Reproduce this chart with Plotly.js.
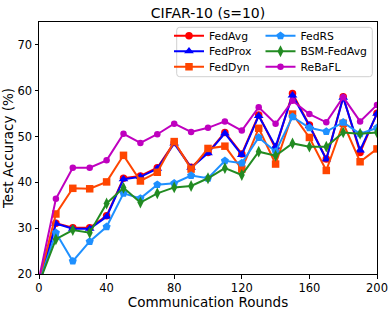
<!DOCTYPE html>
<html>
<head>
<meta charset="utf-8">
<script src="https://cdn.plot.ly/plotly-3.0.1.min.js"></script>
<style>html,body{margin:0;padding:0;background:#fff;}#chart{width:391px;height:310px;}</style>
</head>
<body>
<div id="chart"></div>
<script>
var rounds = [0, 10, 20, 30, 40, 50, 60, 70, 80, 90, 100, 110, 120, 130, 140, 150, 160, 170, 180, 190, 200];
var fedavg = [18.0, 31.1, 30.1, 30.1, 32.7, 40.9, 41.4, 43.2, 48.7, 43.3, 46.5, 50.9, 46.2, 54.7, 47.4, 59.4, 52.5, 45.1, 58.7, 46.5, 55.1];
var fedprox = [17.5, 31.0, 29.9, 29.9, 32.5, 40.7, 41.2, 43.0, 48.5, 43.2, 46.4, 50.7, 46.0, 54.5, 47.8, 59.0, 52.3, 45.0, 58.5, 47.0, 55.0];
var feddyn = [18.5, 33.1, 38.7, 38.6, 40.1, 45.9, 40.3, 42.2, 48.9, 42.9, 47.4, 47.9, 42.9, 51.8, 44.0, 54.9, 49.8, 42.6, 52.9, 44.5, 47.3];
var fedrs = [18.0, 29.0, 22.8, 27.1, 30.3, 37.6, 36.5, 39.5, 39.8, 41.5, 40.9, 44.7, 44.2, 49.8, 46.7, 54.3, 51.9, 51.1, 53.1, 50.6, 51.9];
var bsm = [18.0, 27.6, 29.6, 29.0, 35.4, 38.8, 35.6, 37.6, 38.9, 39.2, 40.9, 43.1, 41.6, 46.7, 45.8, 48.5, 47.8, 47.8, 50.9, 50.6, 50.9];
var rebafl = [19.0, 36.4, 43.2, 43.2, 44.8, 50.6, 48.6, 50.5, 52.8, 51.0, 51.9, 53.3, 51.3, 56.4, 52.8, 57.8, 54.9, 53.1, 58.6, 53.3, 56.9];

var names = ['FedAvg', 'FedProx', 'FedDyn', 'FedRS', 'BSM-FedAvg', 'ReBaFL'];
var series = [fedavg, fedprox, feddyn, fedrs, bsm, rebafl];
var colors = ['#ff0000', '#0000ff', '#ff4500', '#1e90ff', '#228b22', '#bf00bf'];
var symbols = ['circle', 'triangle-up', 'square', 'pentagon', 'diamond-tall', 'circle'];
var sizes = [7.5, 8.5, 7.5, 8.5, 8.5, 6.5];

// plot area in pixels
var L = 39, R = 377, T = 22, B = 274;
function px(x) { return (x - L) / (R - L); }
function py(y) { return (B - y) / (B - T); }

// legend slots (symbol centre pixel positions)
var legX = [189, 189, 189, 280.5, 280.5, 280.5];
var legY = [35.7, 51.2, 66.7, 35.7, 51.2, 66.7];

var traces = [];
var layout = {
  width: 391, height: 310,
  margin: {l: L, r: 391 - R, t: T, b: 310 - B, pad: 0},
  paper_bgcolor: '#ffffff', plot_bgcolor: '#ffffff',
  font: {family: 'DejaVu Sans', color: '#000000'},
  title: {text: 'CIFAR-10 (s=10)', font: {size: 14, family: 'DejaVu Sans', color: '#000'},
          x: 0.5, xref: 'paper', y: 1 - 13 / 310, yref: 'container', yanchor: 'middle', xanchor: 'center'},
  xaxis: {range: [0, 200], tickvals: [0, 40, 80, 120, 160, 200], ticks: 'outside', ticklen: 3.5, tickwidth: 1,
          tickcolor: '#000', showline: true, linecolor: '#000', linewidth: 1, mirror: true, showgrid: false,
          zeroline: false, tickfont: {size: 11.5, family: 'DejaVu Sans'},
          title: {text: 'Communication Rounds', font: {size: 13.5, family: 'DejaVu Sans'}, standoff: 2}},
  yaxis: {range: [20, 75], tickvals: [20, 30, 40, 50, 60, 70], ticks: 'outside', ticklen: 3.5, tickwidth: 1,
          tickcolor: '#000', showline: true, linecolor: '#000', linewidth: 1, mirror: true, showgrid: false,
          zeroline: false, tickfont: {size: 11.5, family: 'DejaVu Sans'},
          title: {text: 'Test Accuracy (%)', font: {size: 13.5, family: 'DejaVu Sans'}, standoff: 4}},
  showlegend: true,
  shapes: []
};

for (var i = 0; i < names.length; i++) {
  var lname = i === 0 ? 'legend' : 'legend' + (i + 1);
  traces.push({
    x: rounds, y: series[i], name: names[i], type: 'scatter', mode: 'lines+markers',
    line: {color: colors[i], width: 2},
    marker: {color: colors[i], symbol: symbols[i], size: sizes[i], line: {width: 0}},
    legend: lname, cliponaxis: true
  });
  layout[lname] = {
    x: px(legX[i] - 20), xanchor: 'left', y: py(legY[i]), yanchor: 'middle',
    bgcolor: 'rgba(0,0,0,0)', borderwidth: 0, font: {size: 10.8, family: 'DejaVu Sans', color: '#000'},
    itemwidth: 30, tracegroupgap: 0
  };
}

// rounded legend frame
var x0 = px(176.7), x1 = px(372.3), yt = py(27.3), yb = py(76.7);
var rx = 3 / (R - L), ry = 3 / (B - T);
layout.shapes.push({
  type: 'path', xref: 'paper', yref: 'paper', layer: 'below',
  path: 'M' + (x0 + rx) + ',' + yt + ' L' + (x1 - rx) + ',' + yt + ' Q' + x1 + ',' + yt + ' ' + x1 + ',' + (yt - ry) +
        ' L' + x1 + ',' + (yb + ry) + ' Q' + x1 + ',' + yb + ' ' + (x1 - rx) + ',' + yb +
        ' L' + (x0 + rx) + ',' + yb + ' Q' + x0 + ',' + yb + ' ' + x0 + ',' + (yb + ry) +
        ' L' + x0 + ',' + (yt - ry) + ' Q' + x0 + ',' + yt + ' ' + (x0 + rx) + ',' + yt + ' Z',
  line: {color: '#d0d0d0', width: 1}, fillcolor: 'rgba(255,255,255,0.8)'
});

Plotly.newPlot('chart', traces, layout, {staticPlot: true, displayModeBar: false});
</script>
</body>
</html>
